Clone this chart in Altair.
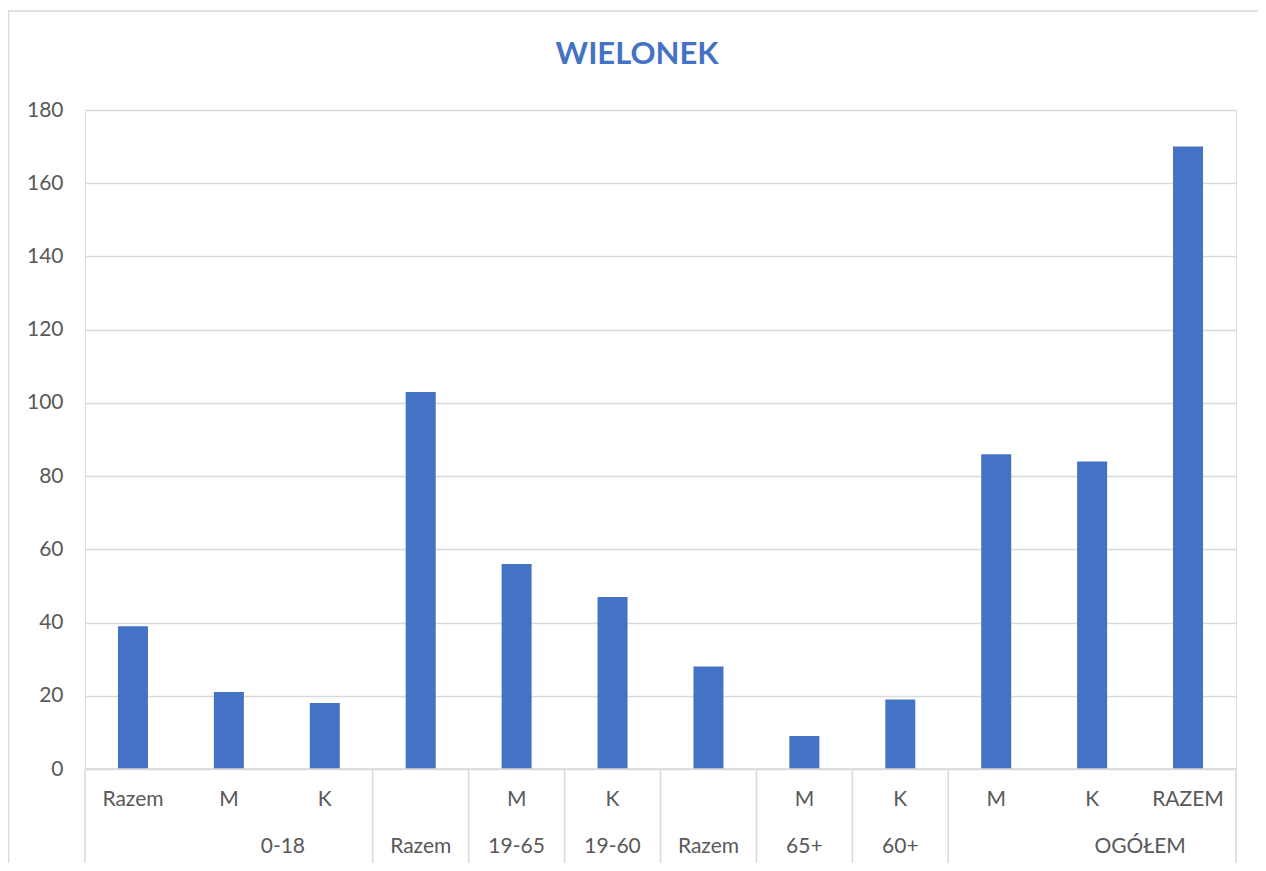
import altair as alt
import pandas as pd

title_text = "WIELONEK"
cat_ids = ["c01", "c02", "c03", "c04", "c05", "c06", "c07", "c08", "c09", "c10", "c11", "c12"]
inner_labels = ["Razem", "M", "K", "", "M", "K", "", "M", "K", "M", "K", "RAZEM"]
values = [39, 21, 18, 103, 56, 47, 28, 9, 19, 86, 84, 170]

outer_cats = ["c02", "c04", "c05", "c06", "c07", "c08", "c09", "c11"]
outer_labels = ["0-18", "Razem", "19-65", "19-60", "Razem", "65+", "60+", "OGÓŁEM"]
outer_dx = [54, 0, 0, 0, 0, 0, 0, 48]

sep_cats = ["c01", "c04", "c05", "c06", "c07", "c08", "c09", "c10"]

W, H = 1151, 659
FONT = "Lato"
GRAY = "#595959"
LINE = "#d9d9d9"
BLUE = "#4472C4"
half_band = W / len(cat_ids) / 2

df = pd.DataFrame({"cat": cat_ids, "inner": inner_labels, "value": values})
df_outer = pd.DataFrame({"cat": outer_cats, "label": outer_labels,
                         "off": [d + half_band for d in outer_dx]})
df_sep = pd.DataFrame({"cat": sep_cats})
df_sep_end = pd.DataFrame({"cat": [cat_ids[-1]]})
df_title = pd.DataFrame({"t": [title_text]})

xscale = alt.Scale(domain=cat_ids, paddingInner=0, paddingOuter=0)
x_enc = alt.X("cat:N", scale=xscale, axis=None, sort=cat_ids)

bars = alt.Chart(df).mark_bar(size=30, color=BLUE).encode(
    x=x_enc,
    y=alt.Y("value:Q", scale=alt.Scale(domain=[0, 180]),
            axis=alt.Axis(values=list(range(0, 181, 20)), title=None, domain=False, ticks=False,
                          grid=True, gridColor=LINE, gridWidth=1.3, labelFont=FONT,
                          labelFontSize=21, labelColor=GRAY, labelPadding=22)),
)

baseline = alt.Chart(df_title).mark_rule(color=LINE, strokeWidth=1.5).encode(
    x=alt.value(0), x2=alt.value(W), y=alt.value(H)
)

inner = alt.Chart(df).mark_text(font=FONT, fontSize=21, color=GRAY, baseline="middle").encode(
    x=x_enc, y=alt.value(800 - 110), text="inner:N"
)

outer = alt.Chart(df_outer).mark_text(font=FONT, fontSize=21, color=GRAY, baseline="middle").encode(
    x=x_enc, y=alt.value(847 - 110), text="label:N", xOffset=alt.XOffset("off:Q", scale=None)
)

seps = alt.Chart(df_sep).mark_rule(color=LINE, strokeWidth=1.5).encode(
    x=alt.X("cat:N", scale=xscale, axis=None, sort=cat_ids, bandPosition=0),
    y=alt.value(H), y2=alt.value(H + 110),
)
sep_end = alt.Chart(df_sep_end).mark_rule(color=LINE, strokeWidth=1.5).encode(
    x=alt.X("cat:N", scale=xscale, axis=None, sort=cat_ids, bandPosition=1),
    y=alt.value(H), y2=alt.value(H + 110),
)

title = alt.Chart(df_title).mark_text(font=FONT, fontSize=31, fontWeight="bold", color=BLUE,
                                       baseline="middle").encode(
    x=alt.value(637 - 85), y=alt.value(55 - 110), text="t:N"
)

border = alt.Chart(df_title).mark_rect(fill=None, stroke=LINE, strokeWidth=1.5).encode(
    x=alt.value(-76.5), x2=alt.value(W + 60), y=alt.value(11 - 110), y2=alt.value(H + 200)
)

chart = alt.layer(border, bars, baseline, inner, outer, seps, sep_end, title).properties(
    width=W, height=H,
    autosize=alt.AutoSizeParams(type="none"),
    padding={"left": 77, "top": 102, "right": 22, "bottom": 94},
).configure_view(stroke=None).configure(background="white")

chart.save("out.html", embed_options={"renderer": "svg", "actions": False})
